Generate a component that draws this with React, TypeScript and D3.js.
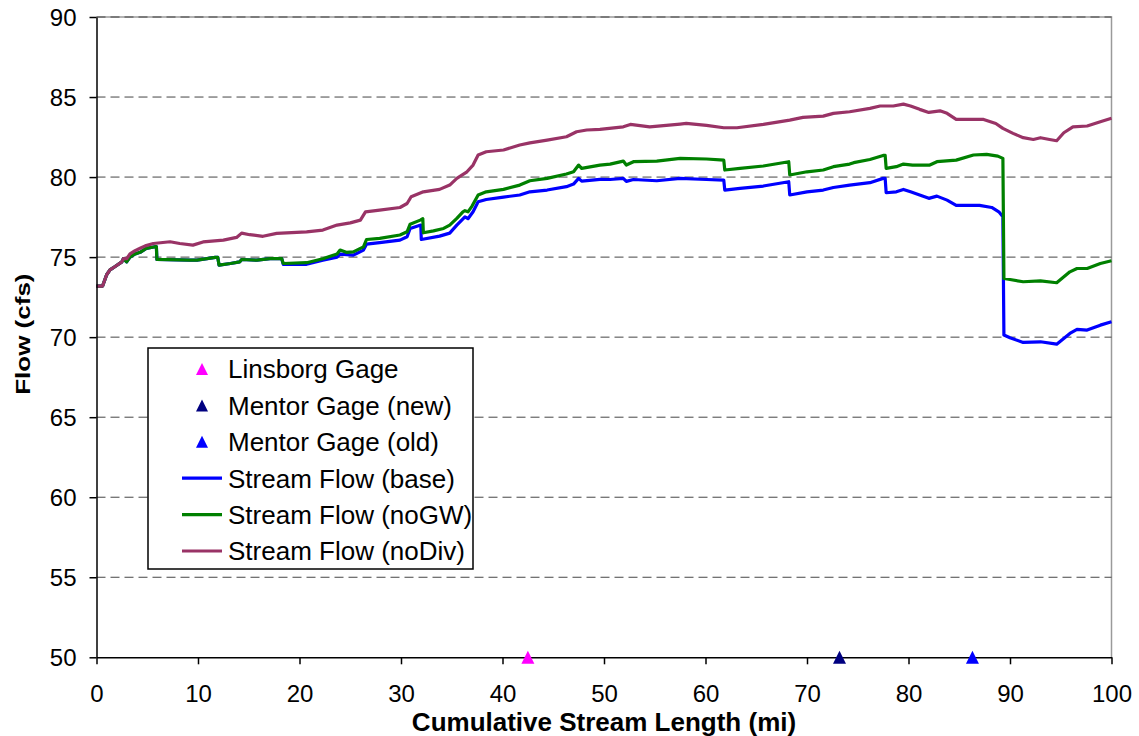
import React, { useEffect, useRef } from "react";
import * as d3 from "d3";

type Pt = [number, number];

// Flow profiles along the stream: [cumulative miles, flow in cfs]
const baseFlow: Pt[] = [
  [0, 73.19], [0.6, 73.19], [1.0, 73.9], [1.33, 74.2], [1.8, 74.4], [2.5, 74.7], [2.65, 74.9],
  [2.97, 74.7], [3.3, 75.0], [3.8, 75.2], [4.3, 75.3], [4.9, 75.55], [5.76, 75.65], [5.9, 75.65],
  [5.95, 74.86], [9.2, 74.81], [9.9, 74.81], [11.7, 74.98], [11.95, 74.98], [12.07, 74.5],
  [13.2, 74.6], [14.1, 74.7], [14.3, 74.85], [15.8, 74.81], [17.1, 74.9], [18.25, 74.9],
  [18.4, 74.55], [20.7, 74.55], [22.3, 74.8], [23.7, 75.0], [24.0, 75.19], [25.3, 75.12],
  [26.3, 75.44], [26.6, 75.81], [27.9, 75.9], [29.9, 76.06], [30.6, 76.27], [30.9, 76.79],
  [31.95, 77.0], [32.0, 76.1], [33.8, 76.31], [34.8, 76.5], [35.5, 77.0], [36.3, 77.52],
  [36.6, 77.4], [37.1, 77.83], [37.6, 78.46], [38.4, 78.6], [40.1, 78.75], [41.7, 78.88],
  [42.7, 79.08], [44.4, 79.19], [46.3, 79.4], [47.0, 79.56], [47.5, 79.92], [47.8, 79.75],
  [49.6, 79.86], [50.6, 79.85], [51.9, 79.92], [52.2, 79.73], [52.9, 79.85], [55.2, 79.77],
  [57.5, 79.92], [60.1, 79.85], [61.8, 79.81], [61.9, 79.19], [63.4, 79.29], [65.7, 79.44],
  [68.2, 79.71], [68.3, 78.88], [70.0, 79.08], [71.6, 79.19], [72.6, 79.35], [74.2, 79.5],
  [76.2, 79.65], [77.5, 79.92], [77.7, 79.92], [77.8, 79.02], [78.8, 79.08], [79.5, 79.23],
  [80.2, 79.08], [81.1, 78.88], [82.0, 78.67], [82.8, 78.81], [83.8, 78.56], [84.7, 78.23],
  [87.0, 78.23], [88.2, 78.1], [88.9, 77.83], [89.3, 77.52], [89.4, 70.13], [90.0, 69.96],
  [91.3, 69.67], [93.0, 69.71], [94.6, 69.56], [95.9, 70.23], [96.6, 70.48], [97.6, 70.44],
  [98.9, 70.75], [100, 70.96],
];

const noGwFlow: Pt[] = [
  [0, 73.19], [0.6, 73.19], [1.0, 73.9], [1.33, 74.2], [1.8, 74.4], [2.5, 74.7], [2.65, 74.9],
  [2.97, 74.7], [3.3, 75.0], [3.8, 75.2], [4.3, 75.3], [4.9, 75.55], [5.76, 75.65], [5.9, 75.65],
  [5.95, 74.86], [9.2, 74.81], [9.9, 74.81], [11.7, 74.98], [11.95, 74.98], [12.07, 74.5],
  [13.2, 74.6], [14.1, 74.7], [14.3, 74.85], [15.8, 74.81], [17.1, 74.9], [18.25, 74.9],
  [18.4, 74.6], [20.7, 74.65], [22.3, 74.9], [23.7, 75.2], [24.0, 75.44], [24.6, 75.3],
  [25.3, 75.33], [26.3, 75.64], [26.6, 76.1], [27.9, 76.17], [29.9, 76.38], [30.6, 76.58],
  [30.9, 77.06], [31.9, 77.31], [32.15, 77.4], [32.2, 76.52], [33.2, 76.64], [34.2, 76.79],
  [34.8, 77.0], [35.5, 77.42], [36.1, 77.83], [36.3, 77.9], [36.6, 77.83], [37.0, 78.19],
  [37.6, 78.88], [38.4, 79.08], [40.1, 79.23], [41.7, 79.5], [42.7, 79.77], [44.4, 79.92],
  [46.3, 80.19], [47.0, 80.33], [47.5, 80.75], [47.8, 80.54], [49.6, 80.75], [50.6, 80.81],
  [51.9, 81.0], [52.2, 80.75], [52.9, 80.96], [55.2, 81.0], [57.5, 81.17], [60.1, 81.13],
  [61.8, 81.06], [61.9, 80.44], [63.4, 80.54], [65.7, 80.69], [68.2, 80.96], [68.3, 80.13],
  [70.0, 80.33], [71.6, 80.44], [72.6, 80.65], [74.2, 80.81], [74.6, 80.9], [76.2, 81.1],
  [77.5, 81.35], [77.7, 81.35], [77.8, 80.54], [78.8, 80.65], [79.5, 80.81], [80.4, 80.75],
  [82.1, 80.75], [82.8, 80.96], [84.7, 81.06], [86.4, 81.38], [87.7, 81.42], [88.8, 81.31],
  [89.3, 81.17], [89.4, 73.67], [90.0, 73.6], [91.3, 73.46], [93.0, 73.52], [94.6, 73.4],
  [95.9, 74.08], [96.6, 74.29], [97.6, 74.29], [98.9, 74.6], [100, 74.77],
];

const noDivFlow: Pt[] = [
  [0, 73.19], [0.6, 73.19], [1.0, 73.9], [1.33, 74.2], [1.8, 74.4], [2.5, 74.7], [2.65, 74.9],
  [2.97, 74.9], [3.3, 75.2], [3.8, 75.4], [4.3, 75.55], [4.8, 75.7], [5.6, 75.85], [7.25, 75.96],
  [8.2, 75.85], [9.5, 75.75], [10.5, 75.95], [12.5, 76.06], [13.8, 76.23], [14.3, 76.5],
  [15.1, 76.4], [16.4, 76.3], [17.75, 76.48], [20.7, 76.58], [22.3, 76.69], [23.7, 77.0],
  [25.0, 77.14], [26.0, 77.31], [26.5, 77.83], [27.9, 77.94], [29.9, 78.1], [30.6, 78.35],
  [31.0, 78.77], [32.2, 79.08], [33.8, 79.23], [34.8, 79.5], [35.5, 79.92], [36.5, 80.33],
  [37.1, 80.75], [37.6, 81.38], [38.4, 81.58], [40.1, 81.69], [41.7, 82.0], [42.7, 82.14],
  [44.4, 82.31], [46.3, 82.52], [47.3, 82.83], [48.3, 82.94], [49.6, 82.98], [51.9, 83.14],
  [52.6, 83.29], [54.5, 83.14], [57.5, 83.31], [58.1, 83.35], [60.1, 83.23], [61.8, 83.08],
  [63.1, 83.08], [65.7, 83.29], [68.3, 83.56], [69.6, 83.73], [71.6, 83.81], [72.6, 83.98],
  [74.2, 84.08], [76.2, 84.29], [77.2, 84.44], [78.5, 84.44], [79.5, 84.56], [80.2, 84.44],
  [81.1, 84.23], [82.0, 84.04], [83.1, 84.14], [83.8, 83.98], [84.7, 83.6], [87.4, 83.6],
  [88.6, 83.35], [89.3, 83.04], [90.3, 82.73], [91.3, 82.46], [92.3, 82.35], [93.0, 82.46],
  [93.9, 82.35], [94.6, 82.27], [95.3, 82.77], [96.2, 83.14], [97.6, 83.19], [98.9, 83.46],
  [100, 83.67],
];

// Gage locations (mi) and the flow level they are plotted at
const gageNames = ["Linsborg Gage", "Mentor Gage (new)", "Mentor Gage (old)"];
const gageMiles = [42.5, 73.2, 86.3];
const gageFlows = [50, 50, 50];
const gageColors = ["#FF00FF", "#000080", "#0000FF"];

const flowNames = ["Stream Flow (base)", "Stream Flow (noGW)", "Stream Flow (noDiv)"];
const flowColors = ["#0000FF", "#008000", "#993366"];

const xTicks = [0, 10, 20, 30, 40, 50, 60, 70, 80, 90, 100];
const yTicks = [50, 55, 60, 65, 70, 75, 80, 85, 90];

const W = 1139;
const H = 736;
const FONT = "Arial, 'Liberation Sans', sans-serif";

// upward triangle marker centred on (0,0)
const triPath = (w: number, h: number) =>
  `M0,${-h / 2}L${w / 2},${h / 2}L${-w / 2},${h / 2}Z`;

export default function App() {
  const ref = useRef<SVGSVGElement>(null);

  useEffect(() => {
    const svg = d3.select(ref.current);
    svg.selectAll("*").remove();

    const x = d3.scaleLinear().domain([0, 100]).range([96.5, 1111.5]);
    const y = d3.scaleLinear().domain([50, 90]).range([657.3, 17]);

    // plot frame, top and right
    svg.append("path")
      .attr("d", `M${x(0)},${y(90)}H${x(100)}V${y(50)}`)
      .attr("fill", "none")
      .attr("stroke", "#9a9a9a").attr("stroke-width", 1.5);

    // dashed horizontal gridlines
    svg.append("g")
      .selectAll("line")
      .data(yTicks.filter((t) => t > 50))
      .join("line")
      .attr("x1", x(0)).attr("x2", x(100))
      .attr("y1", (d) => y(d)).attr("y2", (d) => y(d))
      .attr("stroke", "#454545").attr("stroke-width", 1)
      .attr("stroke-dasharray", "9,5");

    // flow lines
    const line = d3.line<Pt>().x((d) => x(d[0])).y((d) => y(d[1]));
    const series = [baseFlow, noGwFlow, noDivFlow];
    series.forEach((s, i) => {
      svg.append("path")
        .attr("d", line(s) as string)
        .attr("fill", "none")
        .attr("stroke", flowColors[i])
        .attr("stroke-width", 3.2)
        .attr("stroke-linejoin", "round");
    });

    // axes
    const yAxis = svg.append("g").attr("transform", `translate(${x(0)},0)`)
      .call(d3.axisLeft(y).tickValues(yTicks).tickSize(7).tickSizeOuter(0).tickFormat(d3.format("d")));
    yAxis.select(".domain").attr("stroke", "#000").attr("stroke-width", 1.5);
    yAxis.selectAll(".tick line").attr("stroke", "#000").attr("stroke-width", 1.5);
    yAxis.selectAll(".tick text")
      .attr("font-family", FONT).attr("font-size", 24).attr("fill", "#000")
      .attr("x", -20).attr("dy", "0.36em");

    const xAxis = svg.append("g").attr("transform", `translate(0,${y(50)})`)
      .call(d3.axisBottom(x).tickValues(xTicks).tickSize(7).tickSizeOuter(0).tickFormat(d3.format("d")));
    xAxis.select(".domain").attr("stroke", "#000").attr("stroke-width", 1.5);
    xAxis.selectAll(".tick line").attr("stroke", "#000").attr("stroke-width", 1.5);
    xAxis.selectAll(".tick text")
      .attr("font-family", FONT).attr("font-size", 24).attr("fill", "#000")
      .attr("y", 45).attr("dy", "0");

    // gage markers
    gageMiles.forEach((m, i) => {
      svg.append("path")
        .attr("d", triPath(13, 13))
        .attr("transform", `translate(${x(m)},${y(gageFlows[i])})`)
        .attr("fill", gageColors[i]);
    });

    // axis titles
    svg.append("text")
      .attr("x", (x(0) + x(100)) / 2).attr("y", 731)
      .attr("text-anchor", "middle")
      .attr("font-family", FONT).attr("font-weight", "bold").attr("font-size", 26)
      .text("Cumulative Stream Length (mi)");

    svg.append("text")
      .attr("transform", `translate(30,${(y(50) + y(90)) / 2 - 3}) rotate(-90) scale(1.3,1)`)
      .attr("text-anchor", "middle")
      .attr("font-family", FONT).attr("font-weight", "bold").attr("font-size", 20)
      .text("Flow (cfs)");

    // legend
    const lg = svg.append("g");
    lg.append("rect")
      .attr("x", 148).attr("y", 348).attr("width", 325).attr("height", 221)
      .attr("fill", "#fff").attr("stroke", "#000").attr("stroke-width", 1.5);
    const rowY = (i: number) => 369 + i * 36.4;
    gageNames.forEach((name, i) => {
      lg.append("path")
        .attr("d", triPath(12, 12))
        .attr("transform", `translate(202,${rowY(i)})`)
        .attr("fill", gageColors[i]);
      lg.append("text")
        .attr("x", 228).attr("y", rowY(i)).attr("dy", "0.36em")
        .attr("font-family", FONT).attr("font-size", 26)
        .text(name);
    });
    flowNames.forEach((name, j) => {
      const i = j + 3;
      lg.append("line")
        .attr("x1", 182).attr("x2", 222)
        .attr("y1", rowY(i)).attr("y2", rowY(i))
        .attr("stroke", flowColors[j]).attr("stroke-width", 3.2);
      lg.append("text")
        .attr("x", 228).attr("y", rowY(i)).attr("dy", "0.36em")
        .attr("font-family", FONT).attr("font-size", 26)
        .text(name);
    });
  }, []);

  return (
    <svg
      ref={ref}
      width={W}
      height={H}
      style={{ position: "absolute", left: 0, top: 0, background: "#fff" }}
    />
  );
}
